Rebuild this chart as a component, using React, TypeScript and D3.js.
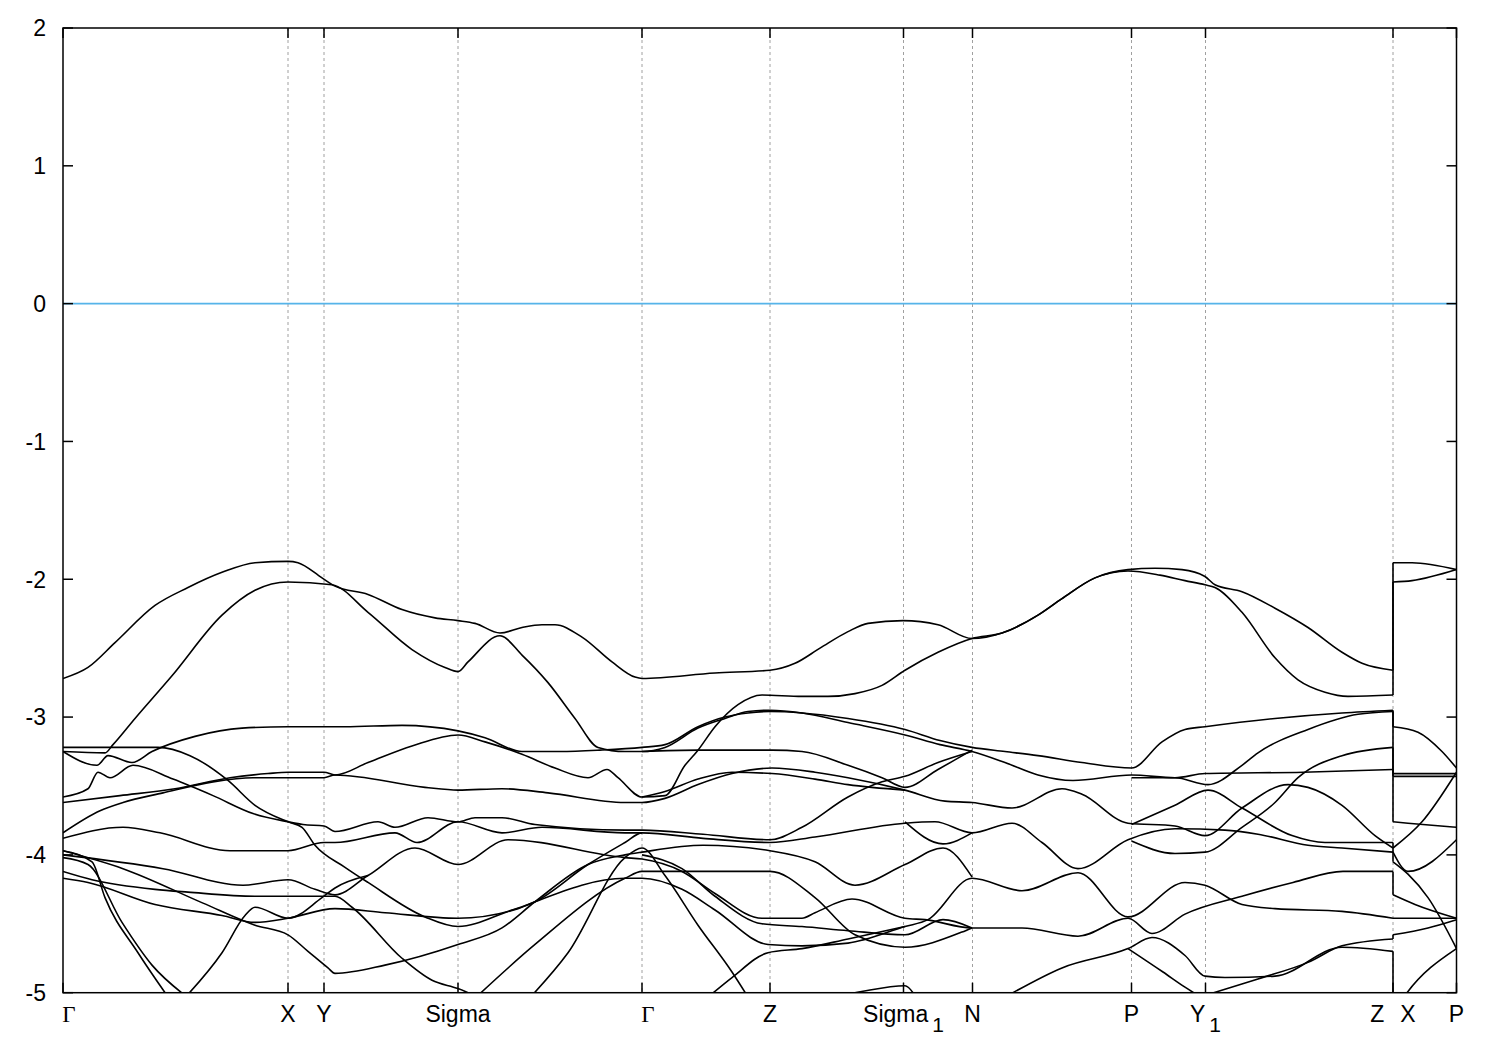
import React from "react";
import * as d3 from "d3";

type P = [number, number];

const kTicks = [0, 225, 261, 395, 579, 707, 840.5, 909.5, 1068.5, 1142.5, 1330, 1393.5];
const kLabels = ["Γ", "X", "Y", "Sigma", "Γ", "Z", "Sigma1", "N", "P", "Y1", "ZX", "P"];
const yTicks = [-5, -4, -3, -2, -1, 0, 1, 2];
const kBreak = 1330;

const bandA: P[] = [[0,-2.72],[25,-2.64],[52,-2.46],[92,-2.19],[125,-2.06],[159,-1.95],[192,-1.88],[225,-1.87],[235,-1.88],[259,-1.99],[272,-2.05],[305,-2.11],[339,-2.22],[372,-2.28],[395,-2.30],[412,-2.32],[437,-2.39],[459,-2.35],[479,-2.33],[492,-2.33],[519,-2.42],[549,-2.60],[572,-2.71],[579,-2.72],[652,-2.68],[707,-2.66],[732,-2.61],[757,-2.50],[785,-2.38],[805,-2.32],[840,-2.30],[875,-2.33],[909,-2.43],[939,-2.39],[975,-2.26],[999,-2.14],[1032,-1.99],[1065,-1.93],[1092,-1.92],[1119,-1.93],[1142,-1.98],[1152,-2.04],[1179,-2.09],[1212,-2.21],[1245,-2.35],[1279,-2.53],[1299,-2.61],[1330,-2.66]];
const bandAx: P[] = [[1330,-1.88],[1349,-1.88],[1393.5,-1.93]];

const bandB: P[] = [[0,-3.25],[42,-3.26],[50,-3.20],[72,-3.01],[109,-2.70],[159,-2.26],[192,-2.08],[225,-2.02],[269,-2.04],[305,-2.24],[349,-2.51],[382,-2.64],[395,-2.67],[405,-2.60],[437,-2.41],[459,-2.55],[485,-2.75],[512,-3.01],[535,-3.22],[562,-3.25],[579,-3.25],[602,-3.22],[635,-3.08],[662,-3.01],[685,-2.96],[707,-2.95],[739,-2.97],[785,-3.04],[842,-3.13],[877,-3.20],[909,-3.25],[942,-3.33],[975,-3.42],[1010,-3.46],[1068.5,-3.42],[1112,-3.44],[1142,-3.41],[1240,-3.40],[1330,-3.38]];
const bandBx: P[] = [[1330,-3.41],[1393.5,-3.41]];

const bandZ: P[] = [[0,-3.62],[57,-3.57],[112,-3.52],[167,-3.44],[205,-3.41],[225,-3.40],[261,-3.40],[272,-3.42],[305,-3.33],[349,-3.21],[395,-3.13],[422,-3.18],[459,-3.27],[492,-3.37],[525,-3.44],[544,-3.38],[555,-3.44],[579,-3.58],[602,-3.57],[622,-3.35],[635,-3.24],[652,-3.07],[675,-2.91],[699,-2.84],[739,-2.85],[765,-2.85],[792,-2.83],[819,-2.77],[842,-2.66],[875,-2.53],[909,-2.43],[939,-2.39],[975,-2.26],[999,-2.14],[1032,-1.99],[1065,-1.94],[1097,-1.97],[1122,-2.01],[1142,-2.04],[1152,-2.06],[1179,-2.24],[1212,-2.57],[1235,-2.73],[1262,-2.82],[1285,-2.85],[1330,-2.84]];
const bandZx: P[] = [[1330,-2.02],[1349,-2.01],[1393.5,-1.93]];

const bandD: P[] = [[0,-3.25],[34,-3.35],[45,-3.28],[69,-3.33],[89,-3.25],[132,-3.14],[179,-3.08],[225,-3.07],[282,-3.07],[339,-3.06],[395,-3.10],[422,-3.15],[459,-3.25],[497,-3.25],[537,-3.24],[579,-3.22],[602,-3.20],[635,-3.07],[662,-3.00],[685,-2.97],[707,-2.96],[739,-2.97],[785,-3.01],[842,-3.09],[877,-3.17],[909,-3.22],[942,-3.25],[975,-3.28],[1019,-3.33],[1068.5,-3.37],[1099,-3.18],[1122,-3.09],[1142,-3.07],[1212,-3.01],[1279,-2.97],[1330,-2.95]];
const bandDx: P[] = [[1330,-3.07],[1355,-3.11],[1379,-3.25],[1393.5,-3.37]];

const bandC: P[] = [[0,-3.22],[95,-3.22],[127,-3.28],[165,-3.46],[192,-3.64],[225,-3.76],[239,-3.80],[252,-3.93],[282,-4.09],[305,-4.20],[362,-4.45],[395,-4.52],[445,-4.41],[472,-4.34],[525,-4.07],[562,-3.91],[579,-3.84],[640,-3.88],[707,-3.91],[752,-3.87],[842,-3.77],[872,-3.76],[909,-3.84],[949,-3.77],[979,-3.91],[1015,-4.10],[1065,-3.89],[1112,-3.81],[1162,-3.82],[1195,-3.85],[1245,-3.93],[1279,-3.95],[1330,-3.98]];
const bandE: P[] = [[579,-3.25],[635,-3.24],[709,-3.24],[739,-3.25],[785,-3.35],[819,-3.44],[842,-3.51],[875,-3.38],[909,-3.24]];
const bandG: P[] = [[0,-3.58],[25,-3.52],[35,-3.40],[47,-3.44],[70,-3.35],[110,-3.45],[150,-3.57],[190,-3.70],[225,-3.76],[240,-3.78],[261,-3.79],[272,-3.83],[315,-3.76],[332,-3.80],[365,-3.73],[395,-3.76],[412,-3.73],[439,-3.73],[472,-3.78],[562,-3.82],[579,-3.82],[640,-3.85],[707,-3.89],[739,-3.80],[785,-3.58],[819,-3.47],[842,-3.43],[875,-3.33],[909,-3.25]];
const bandI: P[] = [[0,-3.84],[37,-3.68],[60,-3.62],[100,-3.55],[150,-3.47],[190,-3.44],[225,-3.44],[261,-3.44],[272,-3.42],[362,-3.51],[395,-3.53],[439,-3.52],[485,-3.55],[562,-3.62],[579,-3.62],[602,-3.59],[635,-3.49],[669,-3.41],[709,-3.37],[752,-3.40],[785,-3.44],[842,-3.53],[882,-3.61],[909,-3.62],[949,-3.66],[999,-3.52],[1019,-3.56],[1065,-3.77],[1112,-3.79],[1142,-3.86],[1179,-3.66],[1225,-3.49],[1245,-3.51],[1279,-3.64],[1312,-3.86],[1330,-3.95]];
const bandI2: P[] = [[579,-3.58],[602,-3.54],[635,-3.45],[669,-3.40],[709,-3.41],[752,-3.45],[785,-3.49],[842,-3.53]];
const bandL3: P[] = [[0,-3.88],[60,-3.80],[97,-3.84],[167,-3.97],[225,-3.97],[261,-3.91],[272,-3.91],[332,-3.84],[354,-3.91],[395,-3.76],[439,-3.84],[479,-3.80],[562,-3.84],[579,-3.84]];
const bandL5: P[] = [[0,-4.00],[100,-4.10],[180,-4.22],[225,-4.18],[252,-4.25],[272,-4.29],[305,-4.15],[352,-3.95],[395,-4.07],[445,-3.89],[562,-4.02],[579,-4.03],[619,-4.12],[652,-4.28],[699,-4.46],[739,-4.46],[752,-4.42],[789,-4.32],[842,-4.46],[862,-4.47],[909,-4.53],[959,-4.53],[1015,-4.59],[1065,-4.46],[1089,-4.57],[1122,-4.43],[1179,-4.30],[1230,-4.20],[1280,-4.12],[1330,-4.12]];
const bandL6: P[] = [[0,-4.17],[25,-4.20],[92,-4.36],[159,-4.44],[192,-4.49],[225,-4.46],[272,-4.39],[322,-4.42],[395,-4.46],[455,-4.39],[472,-4.34],[562,-4.17],[579,-4.17],[619,-4.25],[652,-4.40],[705,-4.65],[739,-4.66],[785,-4.64],[842,-4.52],[865,-4.47],[909,-4.17],[959,-4.26],[1015,-4.13],[1065,-4.45],[1122,-4.20],[1142,-4.22],[1179,-4.36],[1212,-4.39],[1279,-4.41],[1330,-4.46]];
const bandL7: P[] = [[0,-4.12],[29,-4.18],[92,-4.25],[125,-4.27],[192,-4.30],[225,-4.30],[272,-4.30],[289,-4.38],[339,-4.75],[369,-4.91],[395,-4.97],[420,-5.05]];
const bandL8: P[] = [[0,-3.97],[60,-4.10],[140,-4.35],[192,-4.51],[225,-4.58],[245,-4.70],[265,-4.82],[272,-4.86],[322,-4.80],[395,-4.65],[439,-4.53],[472,-4.34],[525,-4.07],[562,-4.00],[579,-3.98],[640,-3.93],[707,-3.97],[752,-4.05],[792,-4.22],[842,-4.07],[880,-3.95],[909,-4.16]];
const bandL9: P[] = [[415,-5.02],[472,-4.65],[562,-4.17],[579,-4.12],[602,-4.12],[707,-4.12],[752,-4.31],[792,-4.58],[842,-4.67],[899,-4.56],[909,-4.53]];
const bandL10: P[] = [[469,-5.02],[505,-4.71],[562,-4.02],[579,-3.95],[602,-4.15],[635,-4.51],[669,-4.85],[684,-5.02]];
const bandL11: P[] = [[579,-4.00],[619,-4.10],[652,-4.30],[699,-4.50],[739,-4.52],[785,-4.55],[842,-4.58],[880,-4.47],[909,-4.53]];
const bandG3: P[] = [[842,-3.76],[880,-3.92],[909,-3.84]];
const dive1: P[] = [[0,-3.97],[29,-4.05],[42,-4.31],[75,-4.71],[104,-5.02]];
const dive2: P[] = [[0,-4.02],[25,-4.07],[59,-4.49],[89,-4.80],[122,-5.02]];
const rise1: P[] = [[124,-5.02],[159,-4.71],[182,-4.44],[192,-4.38],[225,-4.46],[259,-4.31],[272,-4.24],[305,-4.15]];
const rise2: P[] = [[647,-5.02],[669,-4.89],[705,-4.71],[739,-4.68],[785,-4.61],[842,-4.52]];
const bot1: P[] = [[779,-5.02],[800,-4.99],[842,-4.95],[852,-5.02]];
const band9d: P[] = [[945,-5.02],[999,-4.82],[1065,-4.68],[1089,-4.60],[1122,-4.73],[1142,-4.88],[1162,-4.89],[1212,-4.88],[1279,-4.67],[1330,-4.70]];
const band9e: P[] = [[1065,-4.68],[1100,-4.85],[1122,-4.96],[1135,-5.02]];
const band10f: P[] = [[1142,-5.02],[1195,-4.90],[1245,-4.78],[1279,-4.66],[1330,-4.61]];
const band711: P[] = [[1068.5,-3.44],[1112,-3.44],[1145,-3.49],[1179,-3.35],[1195,-3.26],[1245,-3.09],[1295,-2.98],[1330,-2.96]];
const band748: P[] = [[1068.5,-3.90],[1112,-3.99],[1142,-3.98],[1179,-3.80],[1212,-3.62],[1235,-3.44],[1279,-3.28],[1330,-3.22]];
const band10b: P[] = [[1068.5,-3.78],[1112,-3.64],[1145,-3.53],[1179,-3.66],[1229,-3.86],[1262,-3.91],[1330,-3.91]];
const tail3: P[] = [[1330,-3.76],[1345,-3.77],[1393.5,-3.80]];
const tail4: P[] = [[1330,-3.95],[1359,-3.76],[1393.5,-3.40]];
const tail5: P[] = [[1330,-3.98],[1345,-4.12],[1393.5,-3.89]];
const tail6: P[] = [[1330,-4.29],[1352,-4.36],[1393.5,-4.46]];
const tail7: P[] = [[1330,-4.46],[1393.5,-4.46]];
const tail8: P[] = [[1330,-4.58],[1365,-4.53],[1393.5,-4.47]];
const tail9: P[] = [[1330,-4.05],[1345,-4.14],[1365,-4.31],[1393.5,-4.68]];
const tail10: P[] = [[1330,-5.15],[1342,-5.02],[1393.5,-4.68]];
const tail11: P[] = [[1330,-3.43],[1393.5,-3.43]];

const mainBands: P[][] = [bandA, bandB, bandZ, bandD, bandC, bandE, bandG, bandI, bandI2, bandL3, bandL5, bandL6, bandL7, bandL8, bandL9, bandL10, bandL11, bandG3, dive1, dive2, rise1, rise2, bot1, band9d, band9e, band10f, band711, band748, band10b];
const tailBands: P[][] = [bandAx, bandBx, bandZx, bandDx, tail3, tail4, tail5, tail6, tail7, tail8, tail9, tail10, tail11];

export default function App() {
  const W = 1500, H = 1050;
  const L = 63, R = 1456.5, T = 28, B = 992.7;
  const x = d3.scaleLinear().domain([0, kTicks[kTicks.length - 1]]).range([L, R]);
  const y = d3.scaleLinear().domain([-5, 2]).range([B, T]);
  const line = d3.line<P>().x(d => x(d[0])).y(d => y(d[1])).curve(d3.curveMonotoneX);

  const ends = mainBands.filter(b => b[b.length - 1][0] === kBreak).map(b => b[b.length - 1][1]).sort((a, b) => b - a);
  const starts = tailBands.filter(b => b[0][0] === kBreak).map(b => b[0][1]).sort((a, b) => b - a);
  const n = Math.min(ends.length, starts.length);
  const conns = d3.range(n).map(i => [ends[i], starts[i]]);

  const font = "'Liberation Sans', Arial, sans-serif";
  const fs = 23;

  const renderLabel = (lab: string, i: number) => {
    const xx = x(kTicks[i]);
    const ty = 1022;
    if (lab === "Γ") {
      return <text key={i} x={xx + 6} y={ty} textAnchor="middle" fontFamily="'Liberation Serif', 'DejaVu Serif', serif" fontSize={fs}>Γ</text>;
    }
    if (lab === "Sigma1" || lab === "Y1") {
      const base = lab.slice(0, -1);
      return <text key={i} x={xx} y={ty} textAnchor="middle" fontFamily={font} fontSize={fs}>{base}<tspan dx={4} dy={10} fontSize={21}>1</tspan></text>;
    }
    if (lab === "ZX") {
      return <text key={i} x={xx} y={ty} textAnchor="middle" fontFamily={font} fontSize={fs}>Z<tspan dx={16}>X</tspan></text>;
    }
    return <text key={i} x={xx} y={ty} textAnchor="middle" fontFamily={font} fontSize={fs}>{lab}</text>;
  };

  return (
    <svg width={W} height={H} style={{ position: "absolute", left: 0, top: 0, background: "#fff" }}>
      <defs>
        <clipPath id="plotclip"><rect x={L} y={T} width={R - L} height={B - T} /></clipPath>
      </defs>
      <rect x={0} y={0} width={W} height={H} fill="#fff" />
      {kTicks.slice(1, -1).map((k, i) => (
        <line key={"g" + i} x1={x(k)} x2={x(k)} y1={T} y2={B} stroke="#a0a0a0" strokeWidth={1} strokeDasharray="3,3" />
      ))}
      <line x1={L} x2={R} y1={y(0)} y2={y(0)} stroke="#56b4e9" strokeWidth={1.6} />
      <g clipPath="url(#plotclip)" fill="none" stroke="#000" strokeWidth={1.6} strokeLinejoin="round">
        {mainBands.map((b, i) => <path key={"m" + i} d={line(b) || ""} />)}
        {tailBands.map((b, i) => <path key={"t" + i} d={line(b) || ""} />)}
        {conns.map((c, i) => <line key={"c" + i} x1={x(kBreak)} x2={x(kBreak)} y1={y(c[0])} y2={y(c[1])} />)}
      </g>
      {yTicks.map((t, i) => (
        <g key={"y" + i}>
          <line x1={L} x2={L + 10} y1={y(t)} y2={y(t)} stroke="#000" strokeWidth={1.5} />
          <line x1={R} x2={R - 10} y1={y(t)} y2={y(t)} stroke="#000" strokeWidth={1.5} />
          <text x={46} y={y(t)} dy="0.36em" textAnchor="end" fontFamily={font} fontSize={fs}>{t}</text>
        </g>
      ))}
      {kTicks.map((k, i) => (
        <g key={"x" + i}>
          <line x1={x(k)} x2={x(k)} y1={T} y2={T + 10} stroke="#000" strokeWidth={1.5} />
          <line x1={x(k)} x2={x(k)} y1={B} y2={B - 10} stroke="#000" strokeWidth={1.5} />
        </g>
      ))}
      {kLabels.map(renderLabel)}
      <rect x={L} y={T} width={R - L} height={B - T} fill="none" stroke="#000" strokeWidth={1.5} />
    </svg>
  );
}
